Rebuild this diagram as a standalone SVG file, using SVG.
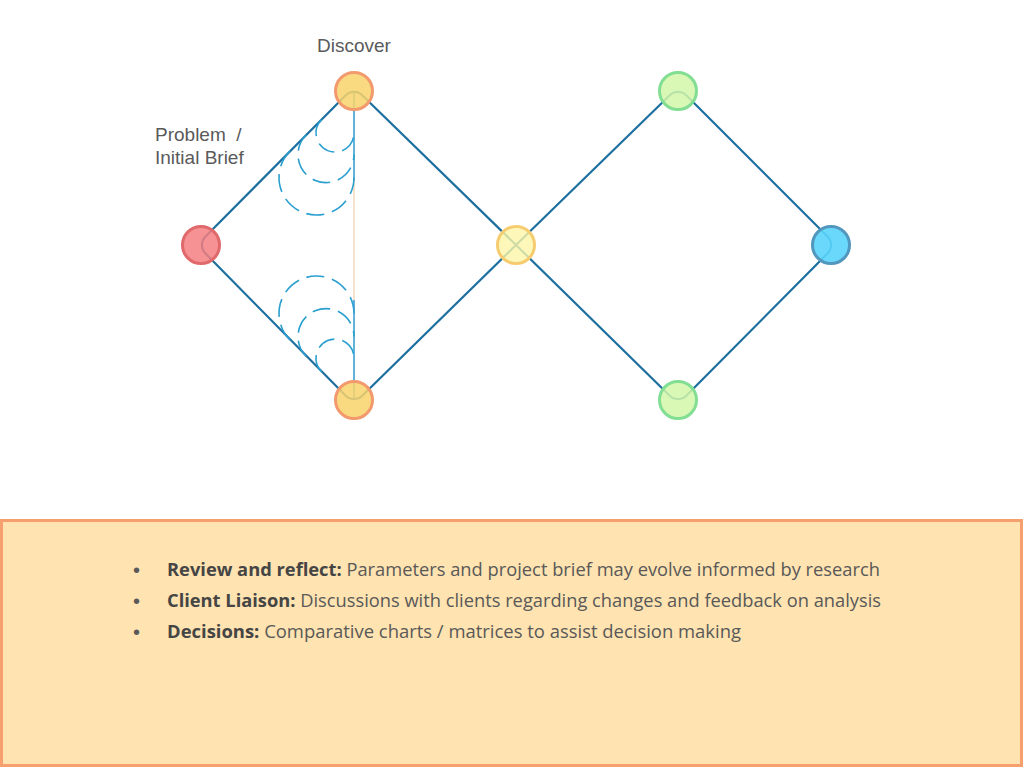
<svg xmlns="http://www.w3.org/2000/svg" width="1024" height="768" viewBox="0 0 1024 768">
<style>
.lbl{font-family:"Liberation Sans",Arial,sans-serif;font-size:19px;fill:#5a5a5a}
.edge{fill:none;stroke:#1c6f9f;stroke-width:2.2}
.dash{fill:none;stroke:#2a9fd0;stroke-width:1.6;stroke-dasharray:18 8}
.node{stroke-width:3}
.bt{font-family:"Open Sans","Liberation Sans",sans-serif;font-size:18px;fill:#595959}
.bul{font-family:"Liberation Sans",Arial,sans-serif;font-size:20px;fill:#595959}
.bt tspan.b{font-weight:bold;fill:#454545}
</style>
<rect width="1024" height="768" fill="#ffffff"/>
<g id="connectors">
<path class="edge" d="M516,245 L362.5,95.5 A12 12 0 0 0 345.5,95.5 L205.5,236.5 A12 12 0 0 0 205.5,253.5 L345.5,395.5 A12 12 0 0 0 362.5,395.5 L516,245"/>
<path class="edge" d="M516,245 L669.5,95.5 A12 12 0 0 1 686.5,95.5 L827.5,236.5 A12 12 0 0 1 827.5,253.5 L686.5,395.5 A12 12 0 0 1 669.5,395.5 L516,245"/>
<line x1="354" y1="92" x2="354" y2="180" stroke="#3aa0d0" stroke-width="1.6"/>
<line x1="354" y1="180" x2="354" y2="300" stroke="#f0dcc0" stroke-width="1.6"/>
<line x1="354" y1="300" x2="354" y2="399" stroke="#3aa0d0" stroke-width="1.6"/>
<path class="dash" d="M321.6,119.6 A19 19 0 1 0 354,133"/>
<path class="dash" d="M306.2,134.8 A28 28 0 1 0 354,154.6"/>
<path class="dash" d="M290,151 A37.5 37.5 0 1 0 354,177.5"/>
<path class="dash" d="M321.6,371.6 A19 19 0 1 1 354,358.1"/>
<path class="dash" d="M306.2,356.4 A28 28 0 1 1 354,336.4"/>
<path class="dash" d="M290,340 A37.5 37.5 0 1 1 354,313.5"/>
</g>
<g id="node-problem"><circle class="node" cx="201" cy="245" r="18.5" fill="#f47f80" fill-opacity="0.85" stroke="#e0696b"/></g>
<g id="node-discover-top"><circle class="node" cx="354" cy="91" r="18.5" fill="#f9d46a" fill-opacity="0.85" stroke="#f29a6e"/></g>
<g id="node-discover-bottom"><circle class="node" cx="354" cy="400" r="18.5" fill="#f9d46a" fill-opacity="0.85" stroke="#f29a6e"/></g>
<g id="node-define"><circle class="node" cx="516" cy="245" r="18.5" fill="#fdf6a8" fill-opacity="0.8" stroke="#f6cc70"/></g>
<g id="node-develop-top"><circle class="node" cx="678" cy="91" r="18.5" fill="#d4f7a8" fill-opacity="0.85" stroke="#82de92"/></g>
<g id="node-develop-bottom"><circle class="node" cx="678" cy="400" r="18.5" fill="#d4f7a8" fill-opacity="0.85" stroke="#82de92"/></g>
<g id="node-deliver"><circle class="node" cx="831" cy="245" r="18.5" fill="#5ad4fb" fill-opacity="0.9" stroke="#5297bd"/></g>
<g id="labels">
<text class="lbl" x="354" y="52" text-anchor="middle">Discover</text>
<text class="lbl" x="155" y="141" xml:space="preserve">Problem  /</text>
<text class="lbl" x="155" y="164">Initial Brief</text>
</g>
<g id="notes">
<rect x="1.5" y="520.5" width="1020" height="245" fill="#ffe3b0" stroke="#f6a070" stroke-width="3"/>
<text class="bul" x="133" y="577">•</text>
<text class="bt" x="167" y="576" textLength="713" lengthAdjust="spacingAndGlyphs"><tspan class="b">Review and reflect:</tspan> Parameters and project brief may evolve informed by research</text>
<text class="bul" x="133" y="608">•</text>
<text class="bt" x="167" y="607" textLength="714" lengthAdjust="spacingAndGlyphs"><tspan class="b">Client Liaison:</tspan> Discussions with clients regarding changes and feedback on analysis</text>
<text class="bul" x="133" y="639">•</text>
<text class="bt" x="167" y="638" textLength="574" lengthAdjust="spacingAndGlyphs"><tspan class="b">Decisions:</tspan> Comparative charts / matrices to assist decision making</text>
</g>
</svg>
